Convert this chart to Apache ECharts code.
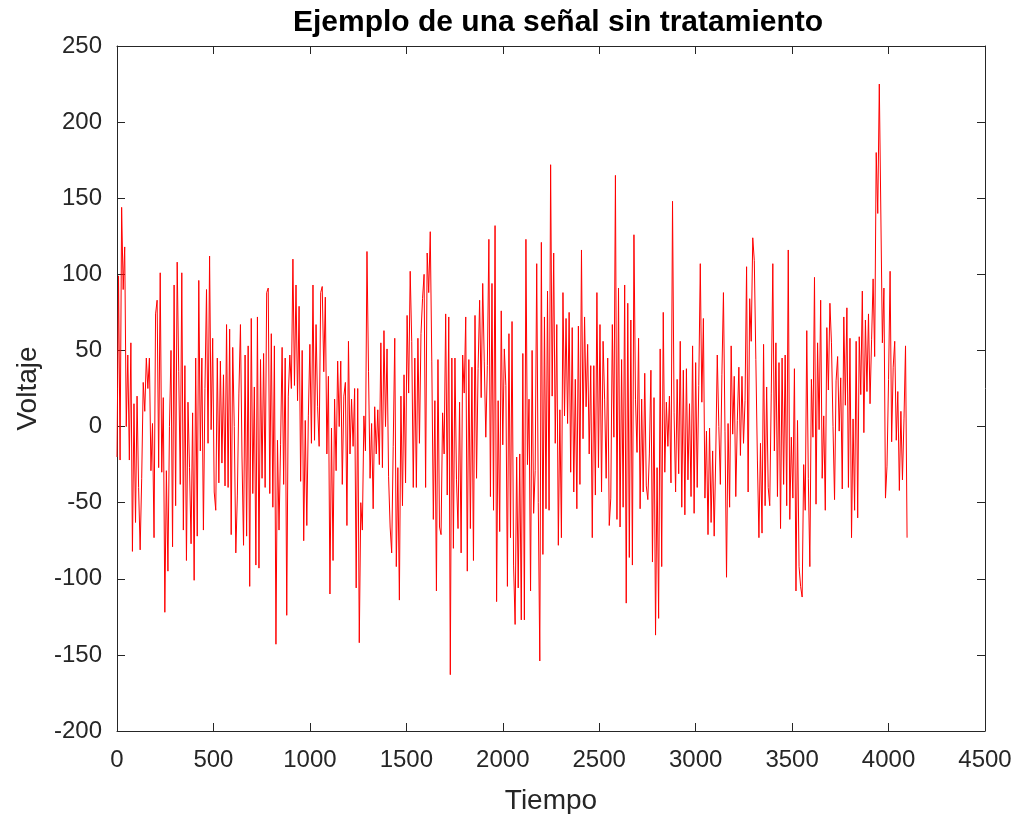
<!DOCTYPE html>
<html>
<head>
<meta charset="utf-8">
<title>Ejemplo de una señal sin tratamiento</title>
<script src="https://cdn.jsdelivr.net/npm/echarts@6/dist/echarts.min.js"></script>
<style>
  html, body { margin: 0; padding: 0; background: #ffffff; }
  #chart { width: 1018px; height: 814px; }
</style>
</head>
<body>
<div id="chart"></div>
<script>
// Sample period of the recorded signal (time units per sample)
const DT = 8;

// Recorded voltage, split into consecutive blocks of samples
const block1 = [-20, 99, -22, 144, 90, 118, 0, 47, -22, 55, -82, 15, -63, 20, -40, -81, -34, 29, 10, 45, 25, 45, -29, 2, -73, 74, 83, -27, 101, -30, 19, -122, -29, -95, 0, 50, -79, 93, -52, 108, 36, -38, 101, -68, 40, -88, 16, -27, -77, 9, -101, 45, -72, 96, -16, 45, -68, 25, 90, -11, 112, -2, 58, -43];
const block2 = [-55, 45, -37, 43, -24, 34, -39, 67, -40, 64, -71, 52, 0, -83, -45, 22, 67, -20, -78, 47, -72, 53, -105, 71, -44, 26, -91, 72, -93, 44, -34, 48, -40, 88, 91, -44, 61, -53, 53, -143, -9, -68, -12, 52, -38, 45, -124, 20, 47, 25, 110, 27, 93, 17, 79, -36, 50, -75, 4, -65, 7, 54, -11, 93, -9];
const block3 = [67, 13, -13, 88, 92, 36, 85, -18, 33, -110, -1, -88, 18, -29, 43, 0, 43, -38, 20, 29, -65, 56, -18, 18, -13, 25, -106, 25, -142, -50, -68, 7, -16, 115, 36, -34, 2, -54, 13, -18, 11, -25, 55, -27, 63, 0, 51, -33, -66, -83, -13, 58, -92, -27, -114, 20, -52, 34, -37, 73, 22, 102, 56, -40, 45];
const block4 = [-40, 58, -11, 61, 84, 100, -40, 114, 88, 128, 43, -61, 17, -108, 44, -66, -71, 9, -18, 74, -45, 72, -163, 45, -80, 45, -35, -67, 16, -83, 47, 22, 72, -95, 44, -67, 39, -88, 73, -34, 38, 83, 19, 94, 43, -7, 40, 123, -46, 94, -55, 132, -115, 17, -69, 76, -12, 51, 27, -105, 61, -73, 69, -91];
const block5 = [-130, -20, -106, -18, -127, 48, -127, 123, -25, 18, -108, 50, -57, -29, 107, -50, -154, 121, -84, 72, -54, 89, -55, 172, 20, 114, -11, 67, -78, 11, -73, 88, 7, 71, 2, 75, -30, 65, -43, 31, -54, 66, -38, 116, -8, 72, 13, 54, -18, 40, -73, 40, -45, 88, -27, 67, -43, 56, 18, -34, 45, -65, -47, 67, -7];
const block6 = [165, -61, 91, -66, 44, -53, 93, -116, 81, -86, 70, -91, 126, 18, -17, 58, -54, 18, -43, 35, -39, -48, -18, 37, -89, 19, -137, -27, -126, 51, -92, 75, -30, 16, -13, 20, -37, 148, 9, -43, 31, -31, 56, -53, 37, -58, 38, -35, 15, -46, 53, -57, 42, -40, 27, 107, 16, 71, -47, -3, -71, -1, -63, -16, -72];
const block7 = [-20, 47, 0, -38, 34, 88, -3, -99, 2, -53, 53, -5, 33, -46, 4, 39, -19, 33, -11, 17, 105, -43, 84, 56, 124, 109, 44, -22, -73, -11, -70, 54, -52, 26, -40, -52, 22, 107, -16, 55, -46, 42, -67, 45, -38, 47, -52, 116, -61, -7, -47, 38, -108, 4, -92, -105, -112, -25, -55, 63, -34, -92, 31, -7, 98];
const block8 = [-51, 55, -2, 83, -34, 7, -55, 65, 24, 81, 55, 0, -48, 30, 46, -3, 32, -41, 72, 14, 78, -40, 58, -73, 5, -55, 56, -60, 59, 21, 89, -4, 70, 23, 74, 15, 57, 97, 46, 180, 140, 225, 225, 55, 91, -47, -26, 31, 102, -10, 39, 56, -9, 23, -42, 10, -35, 5, 53, -73];

// Axis ranges and tick spacing
const X_MIN = 0, X_MAX = 4500, X_STEP = 500;
const Y_MIN = -200, Y_MAX = 250, Y_STEP = 50;

const voltage = [].concat(block1, block2, block3, block4, block5, block6, block7, block8);
const signal = voltage.map((v, i) => [i * DT, v]);

const INK = '#262626';
const FONT = "'Liberation Sans', Arial, Helvetica, sans-serif";

const tickLine = { show: true, inside: true, length: 8, lineStyle: { color: INK, width: 1 } };
const frameLine = { show: true, onZero: false, lineStyle: { color: INK, width: 1 } };
const plainNumber = v => String(v);

const chart = echarts.init(document.getElementById('chart'), null, { renderer: 'canvas' });

chart.setOption({
  animation: false,
  backgroundColor: '#ffffff',
  title: {
    text: 'Ejemplo de una señal sin tratamiento',
    left: 553,
    textAlign: 'center',
    top: 3,
    textStyle: { fontFamily: FONT, fontSize: 30, fontWeight: 'bold', color: '#000000' }
  },
  // fixed plot box; labels and axis names sit outside it
  grid: { left: 117, top: 46, width: 868, height: 685, containLabel: false, outerBoundsMode: 'none' },
  xAxis: [
    {
      type: 'value', position: 'bottom', min: X_MIN, max: X_MAX, interval: X_STEP,
      axisLine: frameLine, axisTick: tickLine, splitLine: { show: false },
      axisLabel: { fontFamily: FONT, fontSize: 24, color: INK, margin: 17, formatter: plainNumber },
      name: 'Tiempo', nameLocation: 'middle', nameGap: 56,
      nameTextStyle: { fontFamily: FONT, fontSize: 28, color: INK }
    },
    {
      type: 'value', position: 'top', min: X_MIN, max: X_MAX, interval: X_STEP,
      axisLine: frameLine, axisTick: tickLine, splitLine: { show: false },
      axisLabel: { show: false }
    }
  ],
  yAxis: [
    {
      type: 'value', position: 'left', min: Y_MIN, max: Y_MAX, interval: Y_STEP,
      axisLine: frameLine, axisTick: tickLine, splitLine: { show: false },
      axisLabel: { fontFamily: FONT, fontSize: 24, color: INK, margin: 15, formatter: plainNumber },
      name: 'Voltaje', nameLocation: 'middle', nameGap: 75,
      nameTextStyle: { fontFamily: FONT, fontSize: 28, color: INK }
    },
    {
      type: 'value', position: 'right', min: Y_MIN, max: Y_MAX, interval: Y_STEP,
      axisLine: frameLine, axisTick: tickLine, splitLine: { show: false },
      axisLabel: { show: false }
    }
  ],
  series: [
    {
      type: 'line',
      xAxisIndex: 0,
      yAxisIndex: 0,
      data: signal,
      showSymbol: false,
      symbol: 'none',
      sampling: null,
      lineStyle: { color: '#ff0000', width: 1 },
      itemStyle: { color: '#ff0000' },
      clip: true
    }
  ]
});
</script>
</body>
</html>
